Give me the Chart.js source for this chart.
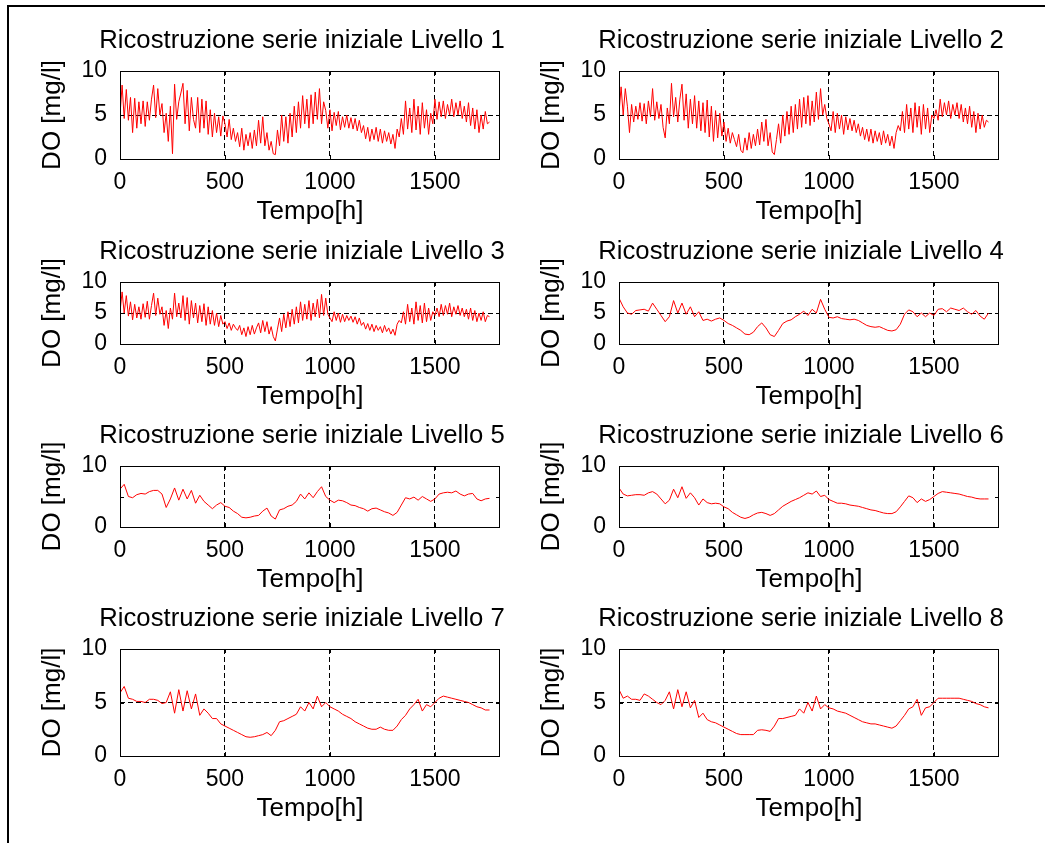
<!DOCTYPE html>
<html>
<head>
<meta charset="utf-8">
<script src="https://cdn.jsdelivr.net/npm/chart.js@4/dist/chart.umd.min.js"></script>
<style>
  html, body { margin: 0; padding: 0; background: #fff; }
  #page { position: relative; width: 1045px; height: 843px; overflow: hidden; background: #fff; }
  #frame { position: absolute; left: 7px; top: 5px; width: 1100px; height: 900px;
           border-top: 2px solid #000; border-left: 2px solid #000; }
  canvas { position: absolute; }
</style>
</head>
<body>
<div id="page"><div id="frame"></div></div>
<script>
// sampling step of the series (hours)
var fineStep = 10;
var coarseStep = 20;

var xTicks = [0, 500, 1000, 1500];
var yTicks = [0, 5, 10];
var xMax = 1810;

// Livello 1..3 : one value every 10 h
var livello1 = [
  5.0, 8.4, 4.6, 7.9, 4.4, 7.0, 3.0, 6.9, 3.5, 6.5,
  4.0, 6.6, 3.7, 6.5, 4.4, 6.8, 8.4, 4.7, 8.0, 5.0,
  6.3, 3.0, 5.2, 2.0, 6.0, 0.6, 8.5, 4.5, 6.5, 7.5,
  8.6, 4.0, 7.8, 3.2, 7.0, 4.5, 3.5, 7.0, 3.0, 6.8,
  3.5, 6.6, 2.8, 5.6, 2.5, 5.2, 3.0, 4.8, 2.6, 4.9,
  4.0, 2.5, 4.5, 2.2, 3.5, 2.0, 3.0, 1.4, 3.5, 1.0,
  2.8, 1.5, 3.0, 1.2, 3.3, 1.5, 4.4, 1.8, 4.8, 1.5,
  3.0, 1.0, 2.0, 0.6, 0.5, 3.3, 1.5, 5.0, 2.0, 4.8,
  1.8, 5.2, 2.5, 6.0, 3.0, 6.5, 3.5, 7.2, 4.0, 6.8,
  3.5, 7.3, 4.0, 7.6, 4.5, 8.0, 4.0, 6.5, 5.5, 3.5,
  5.6, 3.2, 5.3, 3.8, 5.4, 3.3, 4.8, 3.6, 5.0, 3.5,
  4.7, 3.4, 4.6, 3.2, 4.4, 3.0, 3.8, 2.3, 3.6, 2.0,
  3.4, 2.2, 3.6, 2.0, 3.4, 1.8, 3.2, 2.0, 3.0, 1.7,
  2.8, 1.2, 3.4, 2.5, 4.6, 2.8, 6.6, 3.4, 5.8, 3.0,
  6.8, 3.3, 6.0, 2.8, 6.4, 3.5, 5.6, 2.8, 5.2, 4.0,
  6.8, 4.5, 6.5, 4.8, 6.6, 4.6, 6.2, 5.0, 6.8, 4.8,
  6.4, 5.0, 6.6, 4.6, 6.0, 4.2, 6.4, 3.8, 5.8, 3.4,
  5.6, 3.0, 5.0, 3.4, 5.4, 4.0, 4.2
];
var livello2 = [
  5.2, 8.2, 5.0, 8.0, 6.0, 3.0, 6.2, 4.2, 6.0, 4.5,
  6.4, 4.3, 6.3, 4.0, 6.6, 4.8, 8.0, 4.4, 6.5, 4.6,
  6.2, 3.6, 2.4, 5.8, 4.0, 8.6, 4.8, 7.0, 4.2, 6.8,
  8.5, 4.4, 7.4, 3.5, 6.8, 4.0, 7.2, 3.5, 6.6, 3.2,
  6.4, 3.0, 6.7, 2.5, 6.0, 2.0, 5.5, 2.4, 5.2, 2.6,
  4.2, 2.0, 3.5, 1.8, 3.0, 2.2, 1.4, 2.8, 1.0, 0.7,
  2.4, 1.0, 3.0, 1.2, 2.8, 1.5, 3.4, 1.6, 4.2, 2.0,
  4.5, 1.5, 3.0, 0.8, 0.5, 2.2, 4.0, 1.8, 5.0, 2.6,
  5.4, 2.8, 6.0, 3.0, 6.2, 3.4, 6.8, 3.6, 7.0, 4.0,
  7.2, 3.8, 6.6, 4.2, 7.6, 4.5, 8.0, 5.0, 6.2, 4.6,
  4.0, 3.2, 5.4, 3.0, 5.2, 3.4, 5.0, 2.8, 4.8, 3.3,
  4.6, 3.2, 4.4, 3.0, 4.0, 2.6, 3.6, 2.2, 3.4, 2.0,
  3.4, 1.8, 3.2, 2.0, 3.0, 1.6, 3.2, 1.8, 2.8, 1.5,
  2.6, 1.2, 3.0, 3.8, 3.2, 5.4, 3.0, 6.2, 3.4, 5.8,
  3.0, 6.4, 3.6, 6.0, 2.8, 6.2, 3.4, 5.8, 3.0, 5.0,
  4.6, 5.6, 4.4, 6.8, 4.8, 6.4, 5.0, 6.6, 4.6, 6.2,
  5.0, 6.4, 4.6, 6.2, 4.2, 5.8, 4.0, 6.0, 3.6, 5.4,
  3.0, 5.2, 3.4, 5.0, 3.6, 4.4, 4.2
];
var livello3 = [
  5.2, 8.4, 5.0, 7.8, 4.5, 6.8, 3.9, 6.4, 4.2, 6.0,
  4.0, 6.5, 4.3, 6.9, 4.0, 6.2, 8.2, 4.6, 7.4, 4.8,
  6.0, 3.0, 5.4, 2.5, 5.8, 4.0, 8.2, 4.4, 6.6, 4.2,
  7.8, 3.8, 7.5, 3.2, 7.0, 4.2, 6.6, 3.4, 6.2, 3.6,
  6.5, 3.0, 6.0, 3.2, 5.4, 3.0, 5.0, 2.8, 4.6, 3.2,
  3.6, 2.5, 3.4, 2.2, 3.2, 2.6, 2.2, 3.0, 1.5, 2.6,
  1.2, 2.8, 1.5, 3.0, 1.6, 2.6, 3.4, 1.8, 3.8, 2.0,
  3.6, 1.6, 2.8, 1.2, 0.5, 2.4, 4.2, 2.0, 4.8, 2.6,
  5.2, 2.8, 5.6, 3.2, 6.0, 3.4, 6.8, 3.8, 6.4, 4.0,
  7.0, 3.8, 6.6, 4.4, 7.2, 4.2, 8.0, 4.6, 7.4, 4.8,
  4.2, 3.6, 5.2, 3.8, 5.0, 3.5, 4.8, 3.6, 4.6, 3.8,
  4.5, 3.5, 4.4, 3.2, 4.2, 3.0, 3.5, 2.4, 3.3, 2.2,
  3.2, 2.0, 3.0, 2.2, 2.8, 1.8, 3.0, 2.0, 2.6, 1.6,
  2.4, 1.4, 3.2, 3.8, 3.4, 5.2, 3.2, 6.4, 3.6, 5.8,
  3.2, 6.8, 3.8, 6.2, 3.4, 6.6, 3.6, 5.8, 3.8, 5.2,
  4.6, 5.8, 4.4, 6.4, 4.6, 6.2, 4.8, 6.6, 4.4, 6.0,
  4.8, 6.2, 4.6, 5.8, 4.4, 5.6, 4.0, 5.8, 3.8, 5.4,
  3.6, 5.0, 3.8, 5.2, 3.6, 4.6, 4.4
];

// Livello 4..8 : one value every 20 h
var livello4 = [
  7.4, 6.0, 5.0, 4.8, 5.4, 5.5, 5.6, 5.3, 6.6, 5.6,
  4.6, 3.6, 4.4, 7.0, 5.0, 6.6, 4.8, 6.0, 4.4, 5.2,
  3.8, 4.0, 3.7, 4.0, 4.2, 3.8, 3.3, 3.0, 2.6, 2.2,
  1.6, 1.5, 1.9, 2.8, 3.4, 2.6, 1.5, 1.2, 2.2, 3.3,
  3.7, 3.9, 4.4, 4.8, 5.3, 4.6, 5.6, 5.0, 7.2, 5.6,
  4.3, 4.2, 4.4, 4.1, 4.0, 3.9, 4.0, 3.8, 3.4, 3.0,
  2.8, 2.7, 2.8, 2.5, 2.2, 2.1, 2.3, 3.2, 4.8, 5.5,
  5.2, 4.4, 5.0, 4.4, 5.0, 4.6, 5.6, 5.7, 5.2, 5.8,
  5.6, 5.4, 5.8, 5.2, 4.8, 5.4, 4.5, 4.0, 5.0
];
var livello5 = [
  6.2, 7.0, 5.0, 4.8, 5.3, 5.5, 5.4, 5.8, 6.0, 6.0,
  5.4, 3.2, 4.6, 6.4, 4.4, 6.2, 4.6, 6.0, 3.9, 5.2,
  4.2, 3.6, 3.0, 3.6, 4.0, 3.4, 3.2, 2.6, 2.2, 1.6,
  1.5, 1.6, 1.8, 1.9, 2.6, 3.1, 1.8, 1.3, 2.8, 3.0,
  3.4, 3.6, 4.2, 5.4, 4.6, 5.6, 4.8, 5.8, 6.6, 5.0,
  4.4, 4.0, 4.4, 4.3, 4.0, 3.6, 3.5, 3.2, 3.0, 2.6,
  3.0, 3.1, 2.8, 2.5, 2.3, 1.9, 2.4, 3.6, 4.8, 4.6,
  4.9, 4.4, 5.0, 4.6, 4.2, 4.6, 5.4, 5.6, 5.7, 5.6,
  5.9, 5.4, 5.1, 5.4, 5.5, 4.6, 4.3, 4.6, 4.7
];
var livello6 = [
  6.4, 5.4, 5.1, 5.2, 5.3, 5.3, 5.2, 5.6, 5.8, 5.4,
  4.6, 3.8, 4.4, 6.2, 4.8, 6.6, 4.7, 5.6, 4.8, 3.6,
  4.6, 4.0, 3.8, 3.9, 3.8, 3.3, 3.0, 2.4, 2.0, 1.6,
  1.4, 1.6, 2.0, 2.3, 2.4, 2.2, 1.9, 2.2, 2.8, 3.4,
  3.8, 4.2, 4.5, 4.8, 5.2, 5.6, 5.4, 5.9, 5.0, 5.2,
  4.5, 4.2, 3.9, 3.9, 3.8, 3.6, 3.5, 3.4, 3.2, 3.0,
  2.8, 2.7, 2.5, 2.3, 2.2, 2.2, 2.5, 3.3, 4.2, 5.1,
  4.8, 4.0, 4.6, 4.2, 4.5, 5.0, 5.5, 5.8, 5.7, 5.6,
  5.5, 5.4, 5.2, 5.0, 4.9, 4.7, 4.6, 4.6, 4.6
];
var livello7 = [
  5.9, 6.5, 5.4, 5.3, 5.1, 5.1, 5.0, 5.3, 5.3, 5.2,
  4.9, 5.0, 6.0, 4.0, 6.2, 4.2, 6.1, 4.4, 5.8, 3.8,
  4.4, 4.0, 3.5, 3.5, 3.0, 2.8, 2.6, 2.4, 2.2, 2.0,
  1.8, 1.75, 1.8, 1.9, 2.0, 2.2, 1.9, 2.4, 3.2, 3.3,
  3.5, 3.7, 3.9, 4.6, 4.2, 5.0, 4.4, 5.6, 4.6, 5.0,
  4.6, 4.4, 4.2, 3.9, 3.7, 3.5, 3.2, 3.0, 2.8, 2.6,
  2.5, 2.5, 2.7, 2.5, 2.4, 2.4, 2.8, 3.4, 3.8, 4.4,
  4.8, 5.3, 4.2, 4.8, 4.6, 5.0, 5.4, 5.6, 5.5, 5.4,
  5.3, 5.2, 5.1, 5.0, 4.8, 4.6, 4.5, 4.3, 4.3
];
var livello8 = [
  6.2, 5.4, 5.6, 5.3, 5.3, 5.2, 5.8, 5.6, 5.3, 5.0,
  4.8, 5.2, 6.0, 4.4, 6.2, 4.6, 6.0, 4.5, 5.2, 3.6,
  4.0, 3.4, 3.2, 3.1, 2.9, 2.7, 2.5, 2.3, 2.1, 2.0,
  2.0, 2.0, 2.0, 2.4, 2.45, 2.4, 2.3, 2.8, 3.5, 3.5,
  3.6, 3.7, 3.8, 4.4, 4.0, 5.0, 4.2, 5.6, 4.4, 4.8,
  4.5, 4.4, 4.2, 4.1, 4.0, 3.8, 3.6, 3.4, 3.2, 3.1,
  3.0, 3.0, 2.9, 2.8, 2.7, 2.6, 2.8, 3.3, 3.8, 4.4,
  4.6, 5.3, 3.8, 4.5, 4.6, 5.0, 5.4, 5.4, 5.4, 5.4,
  5.4, 5.4, 5.3, 5.2, 5.1, 4.9, 4.8, 4.6, 4.5
];

var panels = [
  {title: 'Ricostruzione serie iniziale Livello 1', values: livello1, step: fineStep, col: 0, row: 0},
  {title: 'Ricostruzione serie iniziale Livello 2', values: livello2, step: fineStep, col: 1, row: 0},
  {title: 'Ricostruzione serie iniziale Livello 3', values: livello3, step: fineStep, col: 0, row: 1},
  {title: 'Ricostruzione serie iniziale Livello 4', values: livello4, step: coarseStep, col: 1, row: 1},
  {title: 'Ricostruzione serie iniziale Livello 5', values: livello5, step: coarseStep, col: 0, row: 2},
  {title: 'Ricostruzione serie iniziale Livello 6', values: livello6, step: coarseStep, col: 1, row: 2},
  {title: 'Ricostruzione serie iniziale Livello 7', values: livello7, step: coarseStep, col: 0, row: 3},
  {title: 'Ricostruzione serie iniziale Livello 8', values: livello8, step: coarseStep, col: 1, row: 3}
];

// plot area placement (px)
var colLeft = [120, 619];
var rowTop = [71, 282, 466, 649];
var rowHeight = [88, 62, 61, 107];
var plotWidth = 380;
var leftRoom = 120, topRoom = 60, bottomRoom = 70, rightRoom = 104;

Chart.defaults.font.family = "'Liberation Sans', Arial, sans-serif";
Chart.defaults.color = '#000';

// box round the axes with small inward ticks, like matlab
var boxPlugin = {
  id: 'box',
  afterDraw: function(chart) {
    var ctx = chart.ctx, a = chart.chartArea;
    var xs = chart.scales.x, ys = chart.scales.y;
    ctx.save();
    ctx.strokeStyle = '#000';
    ctx.lineWidth = 1;
    ctx.beginPath();
    xTicks.forEach(function(v) {
      var px = Math.round(xs.getPixelForValue(v)) + 0.5;
      ctx.moveTo(px, a.bottom); ctx.lineTo(px, a.bottom - 4);
      ctx.moveTo(px, a.top); ctx.lineTo(px, a.top + 4);
    });
    yTicks.forEach(function(v) {
      var py = Math.round(ys.getPixelForValue(v)) + 0.5;
      ctx.moveTo(a.left, py); ctx.lineTo(a.left + 4, py);
      ctx.moveTo(a.right, py); ctx.lineTo(a.right - 4, py);
    });
    ctx.stroke();
    ctx.strokeRect(Math.round(a.left) + 0.5, Math.round(a.top) + 0.5,
                   Math.round(a.right - a.left) - 1, Math.round(a.bottom - a.top));
    ctx.restore();
  }
};

var page = document.getElementById('page');

panels.forEach(function(p) {
  var plotH = rowHeight[p.row];
  var canvas = document.createElement('canvas');
  var w = leftRoom + plotWidth + rightRoom;
  var h = topRoom + plotH + bottomRoom;
  canvas.width = w;
  canvas.height = h;
  canvas.style.left = (colLeft[p.col] - leftRoom) + 'px';
  canvas.style.top = (rowTop[p.row] - topRoom) + 'px';
  canvas.style.width = w + 'px';
  canvas.style.height = h + 'px';
  page.appendChild(canvas);

  var points = p.values.map(function(v, i) { return {x: i * p.step, y: v}; });

  new Chart(canvas.getContext('2d'), {
    type: 'line',
    data: {
      datasets: [{
        data: points,
        borderColor: '#ff0000',
        borderWidth: 1,
        pointRadius: 0,
        tension: 0,
        fill: false
      }]
    },
    options: {
      responsive: false,
      animation: false,
      events: [],
      layout: { padding: 0 },
      plugins: {
        legend: { display: false },
        tooltip: { enabled: false },
        title: {
          display: true,
          text: p.title,
          color: '#000',
          font: { size: 25.7, weight: 'normal' },
          padding: { top: 14.5, bottom: 14.66 }
        }
      },
      scales: {
        x: {
          type: 'linear',
          min: 0,
          max: xMax,
          afterBuildTicks: function(s) { s.ticks = xTicks.map(function(v) { return {value: v}; }); },
          afterFit: function(s) { s.height = bottomRoom; },
          grid: { color: '#000', lineWidth: 1, drawTicks: false },
          border: { display: false, dash: [5, 3] },
          ticks: {
            padding: 10,
            maxRotation: 0,
            autoSkip: false,
            font: { size: 23 },
            callback: function(v) { return String(v); }
          },
          title: { display: true, text: 'Tempo[h]', font: { size: 26 }, padding: { top: 0, bottom: 1.4 } }
        },
        y: {
          type: 'linear',
          min: 0,
          max: 10,
          afterBuildTicks: function(s) { s.ticks = yTicks.map(function(v) { return {value: v}; }); },
          afterFit: function(s) { s.width = leftRoom; },
          grid: { color: '#000', lineWidth: 1, drawTicks: false },
          border: { display: false, dash: [5, 3] },
          ticks: {
            padding: 13,
            font: { size: 23 },
            callback: function(v) { return String(v); }
          },
          title: { display: true, text: 'DO [mg/l]', font: { size: 26 }, padding: { top: 36.9, bottom: 0 } }
        },
        spacer: {
          type: 'linear',
          position: 'right',
          display: true,
          afterFit: function(s) { s.width = rightRoom; },
          grid: { display: false, drawTicks: false },
          border: { display: false },
          ticks: { display: false }
        }
      }
    },
    plugins: [boxPlugin]
  });
});
</script>
</body>
</html>
